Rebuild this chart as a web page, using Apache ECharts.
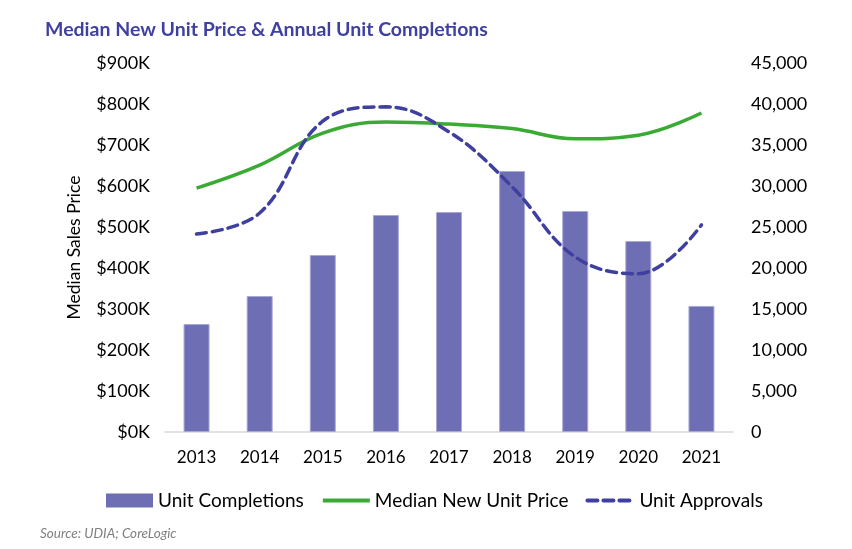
<!DOCTYPE html>
<html lang="en">
  <head>
    <meta charset="UTF-8" />
    <title>Median New Unit Price & Annual Unit Completions</title>
    <script src="https://cdn.jsdelivr.net/npm/echarts@6/dist/echarts.min.js"></script>
    <style>
      * { margin: 0; padding: 0; }
      body { background: #fff; }
    </style>
  </head>
  <body>
    <div id="main" style="width: 852px; height: 549px"></div>
    <script>
      var years = ['2013', '2014', '2015', '2016', '2017', '2018', '2019', '2020', '2021'];
      // units, right axis
      var completions = [13170, 16580, 21580, 26460, 26830, 31830, 26950, 23290, 15370];
      var approvals = [24150, 26700, 37900, 39650, 36600, 29900, 21350, 19300, 25250];
      // dollars, left axis
      var medianPrice = [595000, 651000, 729000, 756000, 751000, 740000, 715000, 724000, 778000];

      var font = 'Lato';
      var chart = echarts.init(document.getElementById('main'));
      chart.setOption({
        textStyle: { fontFamily: font },
        title: {
          text: 'Median New Unit Price & Annual Unit Completions',
          left: 40,
          top: 15,
          textStyle: { fontFamily: font, fontSize: 19.5, fontWeight: 'bold', color: '#4040a0' }
        },
        graphic: [{
          type: 'text',
          left: 40,
          top: 527,
          style: { text: 'Source: UDIA; CoreLogic', fill: '#7f7f7f', font: 'italic 13.5px Lato' }
        }],
        legend: {
          top: 486,
          left: 101,
          itemWidth: 47,
          itemHeight: 14,
          itemGap: 17,
          textStyle: { fontSize: 19, color: '#000' },
          data: [
            { name: 'Unit Completions', icon: 'rect', itemStyle: { borderWidth: 0 } },
            { name: 'Median New Unit Price', itemStyle: { opacity: 0 }, lineStyle: { width: 4 } },
            { name: 'Unit Approvals', itemStyle: { opacity: 0 }, lineStyle: { width: 4 } }
          ]
        },
        grid: { left: 165, right: 119, top: 63, bottom: 117 },
        xAxis: {
          type: 'category',
          data: years,
          axisTick: { show: false },
          axisLine: { lineStyle: { color: '#d9d9d9', width: 1.5 } },
          axisLabel: { fontSize: 17, color: '#000', margin: 17 }
        },
        yAxis: [
          {
            type: 'value',
            min: 0, max: 900000, interval: 100000,
            name: 'Median Sales Price',
            nameLocation: 'middle',
            nameGap: 82,
            nameTextStyle: { fontSize: 17.5, color: '#000' },
            splitLine: { show: false },
            axisLabel: {
              fontSize: 18, color: '#000', margin: 15,
              formatter: function (v) { return '$' + v / 1000 + 'K'; }
            }
          },
          {
            type: 'value',
            min: 0, max: 45000, interval: 5000,
            splitLine: { show: false },
            axisLabel: {
              fontSize: 18, color: '#000', margin: 18,
              formatter: function (v) { return v.toLocaleString('en-US'); }
            }
          }
        ],
        series: [
          {
            name: 'Unit Completions',
            type: 'bar',
            yAxisIndex: 1,
            barWidth: 26,
            itemStyle: { color: '#6e6eb4', borderColor: '#a9a9d6', borderWidth: 1 },
            data: completions
          },
          {
            name: 'Median New Unit Price',
            type: 'line',
            yAxisIndex: 0,
            smooth: 0.4,
            symbol: 'none',
            itemStyle: { color: '#3aaa35' },
            lineStyle: { color: '#3aaa35', width: 3.5 },
            data: medianPrice
          },
          {
            name: 'Unit Approvals',
            type: 'line',
            yAxisIndex: 1,
            smooth: 0.4,
            symbol: 'none',
            itemStyle: { color: '#3f3f9f' },
            lineStyle: { color: '#3f3f9f', width: 3.5, type: [10, 6], cap: 'round' },
            data: approvals
          }
        ]
      });
    </script>
  </body>
</html>
